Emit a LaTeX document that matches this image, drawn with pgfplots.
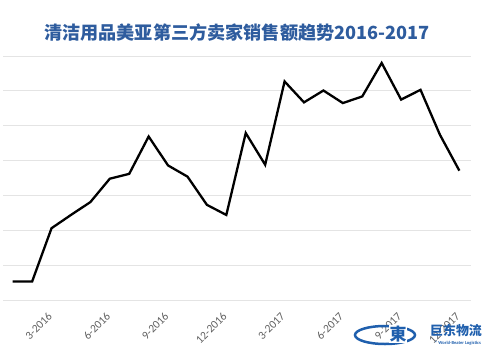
\documentclass[border=0pt]{standalone}
\usepackage{pgfplots}
\pgfplotsset{compat=1.18}
\usepackage{fontspec}
\setmainfont{Carlito}
\newfontfamily\cjk{Noto Sans CJK SC}
\definecolor{titleblue}{HTML}{2E5C9E}
\definecolor{logoblue}{HTML}{1F5FAD}
\definecolor{gridgray}{HTML}{E4E4E4}
\definecolor{ticklab}{HTML}{606060}
\begin{document}
\begin{tikzpicture}[x=1bp,y=1bp]
\path[use as bounding box] (0,0) rectangle (492,359);
\begin{axis}[
  at={(3bp,59bp)}, anchor=south west,
  scale only axis, width=468bp, height=244bp,
  xmin=0.5, xmax=24.6, ymin=0, ymax=7,
  axis line style={draw=none},
  ytick={0,1,...,7}, yticklabels={},
  ymajorgrids, grid style={gridgray, line width=0.9bp},
  major tick length=0pt,
  xtick={3,6,9,12,15,18,21,24},
  xticklabels={3-2016,6-2016,9-2016,12-2016,3-2017,6-2017,9-2017,12-2017},
  xticklabel style={rotate=45, anchor=north east, font=\fontsize{11.5}{13}\selectfont, text=ticklab, yshift=-2bp, xshift=-8bp},
  /pgf/number format/assume math mode=true,
  clip=false,
]
\addplot[black, line width=2.3bp, line join=miter] coordinates {
(1,0.53) (2,0.53) (3,2.06) (4,2.44) (5,2.81) (6,3.48) (7,3.62) (8,4.69)
(9,3.86) (10,3.54) (11,2.73) (12,2.44) (13,4.79) (14,3.88) (15,6.27) (16,5.67)
(17,6.01) (18,5.65) (19,5.84) (20,6.80) (21,5.75) (22,6.03) (23,4.74) (24,3.71)
};
\end{axis}
\node[font=\cjk\bfseries\fontsize{18.2}{20}\selectfont, text=titleblue] at (237,326) {清洁用品美亚第三方卖家销售额趋势2016-2017};
% watermark logo
\draw[logoblue, line width=2.5bp] (385,24) ellipse [x radius=30, y radius=9];
\node[font=\cjk\bfseries\fontsize{17}{18}\selectfont, text=logoblue, fill=white, inner sep=0.5bp] at (398,25) {東};
\node[font=\cjk\bfseries\fontsize{13}{14}\selectfont, text=logoblue] at (456,28) {巨东物流};
\node[font=\bfseries\fontsize{4.6}{5}\selectfont, text=logoblue] at (458,16) {® World-Beater Logistics};
\end{tikzpicture}
\end{document}
